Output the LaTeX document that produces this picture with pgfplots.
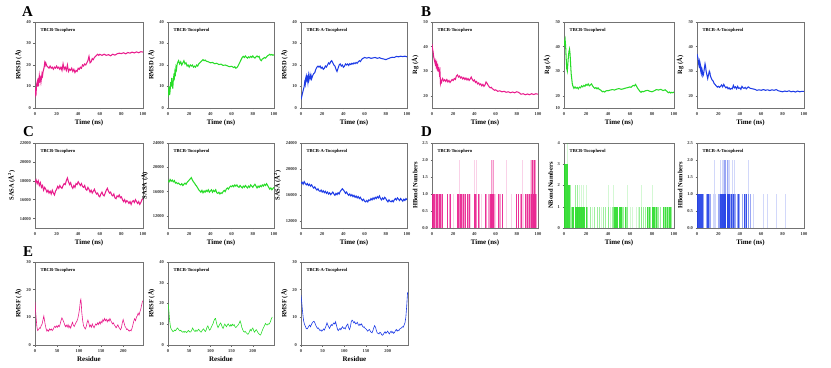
\documentclass[border=0pt]{standalone}
\usepackage{fontspec}
\setmainfont{Liberation Serif}
\usepackage{pgfplots}
\pgfplotsset{compat=1.18}
\definecolor{cp}{RGB}{232,28,140}
\definecolor{cg}{RGB}{40,220,40}
\definecolor{cb}{RGB}{30,60,230}
\pgfplotsset{
  panel/.style={
    scale only axis, anchor=south west,
    axis line style={black!55, line width=0.5pt},
    tick pos=left, tick align=outside, major tick length=1.5bp,
    every tick/.style={black!60, line width=0.4pt},
    tick label style={font=\fontsize{4.5}{5}\selectfont\bfseries, text=black!80},
    xlabel style={font=\fontsize{7}{8}\selectfont\bfseries, yshift=2pt},
    ylabel style={font=\fontsize{6.5}{7}\selectfont\bfseries, yshift=-2pt},
    /pgf/number format/assume math mode=true,
    /pgf/number format/1000 sep={},
    scaled ticks=false,
    xticklabel style={yshift=1pt}, yticklabel style={xshift=1pt},
  },
  tpanel/.style={panel, xmin=0, xmax=100, xtick={0,20,...,100}, xlabel={Time (ns)}},
  rpanel/.style={panel, xmin=0, xtick={0,50,...,200}, xlabel={Residue}},
  ser/.style={line width=1.05pt, #1},
  bar/.style={ycomb, line width=0.9pt, #1},
}
\newcommand\ttl[1]{\node[anchor=north west, font=\fontsize{4.6}{5}\selectfont\bfseries, inner sep=0pt] at (rel axis cs:0.05,0.93) {#1};}
\tikzset{lett/.style={font=\fontsize{15}{15}\selectfont\bfseries, inner sep=0pt, anchor=south west}}
\begin{document}
\begin{tikzpicture}
\path[use as bounding box] (0,0) rectangle (831bp,368bp);
\node[lett] at (22bp,351bp) {A};
\node[lett] at (421bp,351bp) {B};
\node[lett] at (23bp,231bp) {C};
\node[lett] at (421bp,231bp) {D};
\node[lett] at (23bp,111bp) {E};

% ---------------- Row A ----------------
\begin{axis}[tpanel, at={(35bp,260bp)}, width=108bp, height=86bp, ymin=0, ymax=40, ytick={0,10,...,40}, ylabel={RMSD (Å)}]
\addplot[ser=cp] coordinates {(0,5)(0.5,8)(1,7)(1.5,11)(2,12)(2.5,10)(3,14)(3.5,12)(4,15)(4.5,13)(5,14)(5.5,12)(6,14)(6.5,16)(7,15)(7.5,17)(8,18)(8.5,19)(9,21)(9.5,20)(10,21)(11,19.5)(12,19)(13,18.5)(14,19.5)(15,18.5)(16,19)(17,18)(18,19)(19,18.5)(20,19.5)(21,18.5)(22,19)(23,18)(24,19)(25,17.5)(26,20.5)(27,18)(28,19)(29,17.5)(30,20)(31,17)(32,18)(33,17.5)(34,18.5)(35,17)(36,18)(37,16.5)(38,17.5)(39,17)(40,18.5)(41,18)(42,19)(43,18.5)(44,20)(45,19.5)(46,20.5)(47,20)(48,21)(49,22)(50,24)(51,21)(52,21.5)(53,23)(54,22.5)(55,23.5)(56,24)(57,24.5)(58,25)(59,24.5)(60,25)(62,24.5)(64,25)(66,24.5)(68,24.8)(70,24.3)(72,25)(74,24.6)(76,25.2)(78,25.5)(80,25.3)(82,25.7)(84,25.2)(86,25.8)(88,25.5)(90,26)(92,25.6)(94,26.1)(96,25.7)(98,26.2)(100,26)};
\ttl{TBCB-Tocophero}
\end{axis}
\begin{axis}[tpanel, at={(168bp,260bp)}, width=106bp, height=86bp, ymin=0, ymax=40, ytick={0,10,...,40}, ylabel={RMSD (Å)}]
\addplot[ser=cg] coordinates {(0,9)(0.5,7)(1,10)(1.5,6)(2,8)(2.5,12)(3,10)(3.5,14)(4,11)(4.5,9)(5,13)(5.5,15)(6,14)(6.5,17)(7,16)(7.5,19)(8,18)(8.5,20)(9,21)(10,22)(11,20.5)(12,21.5)(13,20)(14,21)(15,22)(16,20.5)(17,21)(18,19.5)(19,20)(20,19)(21,20)(22,19.5)(23,20)(24,19)(25,19.5)(26,19)(27,20)(28,19.5)(29,20.5)(30,21)(31,21.5)(32,22)(33,22.5)(34,22)(35,22.3)(36,21.8)(38,21.5)(40,21)(42,21.2)(44,20.6)(46,20.8)(48,20.2)(50,20.4)(52,19.8)(54,20)(56,19.6)(58,19.2)(60,19.4)(62,18.8)(63,19.2)(64,18.5)(65,18.8)(66,19.5)(67,20.5)(68,21.5)(69,22.5)(70,23.5)(71,24)(72,23.5)(73,24.2)(74,23.6)(75,23.2)(76,23.8)(77,23.4)(78,24)(79,23.5)(80,24.2)(81,23.6)(82,23.2)(83,23.8)(84,24.2)(85,23.7)(86,24)(87,22.5)(88,22)(89,22.8)(90,23)(91,23.5)(92,23.2)(93,23.8)(94,24.3)(95,24.6)(96,25)(97,24.6)(98,24.9)(99,24.5)(100,24.8)};
\ttl{TBCB-Tocopherol}
\end{axis}
\begin{axis}[tpanel, at={(301bp,260bp)}, width=106bp, height=86bp, ymin=0, ymax=40, ytick={0,10,...,40}, ylabel={RMSD (Å)}]
\addplot[ser=cb] coordinates {(0,4)(0.5,5)(1,6)(1.5,7)(2,8)(2.5,9)(3,10)(3.5,12)(4,11)(4.5,14)(5,15)(5.5,13)(6,14)(6.5,12)(7,15)(7.5,13)(8,14)(8.5,15.5)(9,14)(9.5,15)(10,13.5)(11,15)(12,16)(13,16.5)(14,18)(15,19)(16,19.5)(17,19)(18,19.5)(19,18.5)(20,19)(21,18)(22,18.5)(23,19.5)(24,19)(25,20)(26,21)(27,20.5)(28,21.5)(29,22)(30,21)(31,20)(32,19.5)(33,18)(34,17)(35,18.5)(36,20)(37,20.5)(38,19.5)(39,20)(40,19)(41,19.5)(42,20.5)(43,20)(44,20.5)(45,19.8)(46,20.6)(47,20.2)(48,20.8)(49,20.4)(50,21)(51,20.6)(52,21.2)(53,20.8)(54,21.5)(55,22)(56,21.6)(57,22.4)(58,23)(59,23.2)(60,23.5)(62,23.2)(64,23.5)(66,23.1)(68,23.3)(70,23.5)(72,23.1)(74,23.4)(76,23)(78,22.8)(80,22.5)(82,22.9)(84,23.3)(86,23.6)(88,23.5)(90,24)(92,23.8)(94,24.1)(96,23.9)(98,24.1)(100,23.8)};
\ttl{TBCB-A-Tocopherol}
\end{axis}

% ---------------- Row B ----------------
\begin{axis}[tpanel, at={(432bp,260bp)}, width=106bp, height=86bp, ymin=15, ymax=50, ytick={20,30,40,50}, ylabel={Rg (Å)}]
\addplot[ser=cp] coordinates {(0,41)(0.5,39)(1,38)(1.5,36)(2,35)(2.5,34)(3,33)(3.5,34)(4,32)(4.5,33)(5,31)(5.5,32)(6,30.5)(6.5,31)(7,29)(7.5,30)(8,25)(8.5,26)(9,25.5)(9.5,26.5)(10,27)(11,26)(12,26.5)(13,25.8)(14,26.6)(15,25.6)(16,26.2)(17,25.4)(18,26)(19,26.6)(20,26.2)(21,27)(22,26.6)(23,28)(24,28.5)(25,27.6)(26,28)(27,27.2)(28,27.6)(29,26.8)(30,27.4)(31,26.6)(32,27.2)(33,26.4)(34,27)(35,26.2)(36,26.8)(37,27.6)(38,26.6)(39,26)(40,26.4)(41,25.4)(42,25.8)(43,24.8)(44,25.2)(45,24.4)(46,24.8)(47,24)(48,24.6)(49,23.8)(50,24.4)(51,25.6)(52,25)(53,24.2)(54,23.6)(55,23.2)(56,23.4)(57,22.8)(58,22.6)(59,22.2)(60,22.4)(62,21.8)(64,22)(66,21.6)(68,21.8)(70,21.4)(72,21.6)(74,21.2)(76,21.5)(78,21.2)(80,21.6)(82,21.3)(84,20.6)(86,20.8)(88,20.4)(90,20.7)(92,20.4)(94,20.8)(96,20.5)(98,20.8)(100,20.6)};
\ttl{TBCB-Tocophero}
\end{axis}
\begin{axis}[tpanel, at={(564bp,260bp)}, width=110bp, height=86bp, ymin=15, ymax=50, ytick={15,20,30,40,50}, yticklabels={10,20,30,40,50}, ylabel={Rg (Å)}]
\addplot[ser=cg] coordinates {(0,40)(0.5,42)(1,43)(1.5,40)(2,35)(2.5,31)(3,30)(3.5,33)(4,36)(4.5,38)(5,39)(5.5,37)(6,33)(6.5,29)(7,27)(7.5,25)(8,24)(8.5,23.5)(9,23)(10,23.6)(11,23)(12,23.4)(13,22.8)(14,23.5)(15,23.2)(16,24)(17,23.6)(18,24.2)(19,23.8)(20,24.6)(21,24.2)(22,24.8)(23,24)(24,24.4)(25,24.8)(26,24)(27,23.4)(28,23)(29,23.3)(30,22.8)(31,23.2)(32,22.6)(33,22.4)(34,22)(35,21.6)(36,21.8)(37,21.5)(38,21.9)(39,22.1)(40,22)(42,22.3)(44,22.5)(46,22.3)(48,22.7)(50,22.9)(52,22.6)(54,22.8)(56,23.1)(58,23.3)(60,23.6)(61,23.4)(62,23.9)(63,24.2)(64,24)(65,24.6)(66,23.8)(67,23)(68,22.4)(69,21.8)(70,21.4)(71,21.8)(72,21.6)(74,22)(76,22.2)(78,21.8)(80,21.6)(82,22)(84,22.5)(86,22.3)(88,22.6)(90,22.1)(92,22.4)(94,21.6)(95,21.2)(96,21.5)(97,21.1)(98,21.4)(99,21.2)(100,21.5)};
\ttl{TBCB-Tocopherol}
\end{axis}
\begin{axis}[tpanel, at={(697bp,260bp)}, width=107bp, height=86bp, ymin=15, ymax=50, ytick={20,30,40,50}, ylabel={Rg (Å)}]
\addplot[ser=cb] coordinates {(0,37)(0.5,36)(1,35)(1.5,33)(2,32)(2.5,34)(3,33)(3.5,30)(4,29)(4.5,31)(5,30)(5.5,28)(6,28.5)(6.5,30)(7,31.5)(7.5,33)(8,32)(8.5,30)(9,29)(9.5,28)(10,27)(10.5,28)(11,29)(11.5,30)(12,29.5)(12.5,28)(13,27.5)(14,26.5)(15,26)(16,25)(17,24.5)(18,24)(19,23.5)(20,23.8)(21,23.4)(22,23.8)(23,24.4)(24,23.6)(25,24.6)(26,23.8)(27,23.2)(28,23.6)(29,22.8)(30,23.2)(31,22.6)(32,23)(33,22.8)(34,24.2)(35,23.2)(36,23.6)(37,22.8)(38,23.8)(39,23)(40,23.2)(41,22.6)(42,23.8)(43,23.2)(44,23)(45,23.4)(46,22.8)(47,23.2)(48,23.6)(49,23.2)(50,23)(52,22.8)(54,22.6)(56,22.2)(58,22.4)(60,22.2)(62,22.5)(64,22.2)(66,22.4)(68,22.1)(70,22.4)(72,22.2)(74,22.5)(76,22)(78,21.8)(80,21.6)(82,21.9)(84,21.7)(86,22)(88,21.6)(90,21.8)(92,21.5)(94,21.9)(96,21.6)(98,21.8)(100,21.8)};
\ttl{TBCB-A-Tocopherol}
\end{axis}

% ---------------- Row C ----------------
\begin{axis}[tpanel, at={(35bp,140bp)}, width=108bp, height=85bp, ymin=13000, ymax=22000, ytick={14000,16000,...,22000}, ylabel={SASA (Å\textsuperscript{2})}]
\addplot[ser=cp] coordinates {(0,17800)(1,18100)(2,17700)(3,18000)(4,17500)(5,17800)(6,17300)(7,17500)(8,17000)(9,17300)(10,17100)(11,16800)(12,17000)(13,16700)(14,16900)(15,16600)(16,17000)(17,16700)(18,16500)(19,16900)(20,17100)(21,17400)(22,17200)(23,17500)(24,17300)(25,17200)(26,17500)(27,17700)(28,17600)(29,18000)(30,18300)(31,17900)(32,17600)(33,17800)(34,17400)(35,17200)(36,17500)(37,17300)(38,17700)(39,17600)(40,17900)(41,17700)(42,17500)(43,17700)(44,17400)(45,17300)(46,17500)(47,17100)(48,17000)(49,17300)(50,17100)(51,16800)(52,17000)(53,16700)(54,16900)(55,17100)(56,16800)(57,16600)(58,16700)(59,16400)(60,16300)(61,16600)(62,16800)(63,16500)(64,16400)(65,16700)(66,17000)(67,17200)(68,16900)(69,16700)(70,16800)(71,16500)(72,16400)(73,16600)(74,16200)(75,16100)(76,16400)(77,16300)(78,16500)(79,16200)(80,16300)(81,16000)(82,15800)(83,16000)(84,15700)(85,15900)(86,15800)(87,15600)(88,15800)(89,15500)(90,15800)(91,15900)(92,15700)(93,16000)(94,15800)(95,15600)(96,15800)(97,15500)(98,15700)(99,16000)(100,16100)};
\ttl{TBCB-Tocophero}
\end{axis}
\begin{axis}[tpanel, at={(168bp,140bp)}, width=106bp, height=85bp, ymin=10000, ymax=24000, ytick={12000,16000,20000,24000}, ylabel={SASA (Å)}]
\addplot[ser=cg] coordinates {(0,17800)(1,17600)(2,18000)(3,17700)(4,17900)(5,17600)(6,17800)(7,17400)(8,17500)(9,17300)(10,17400)(11,17200)(12,17100)(13,17300)(14,17000)(15,17200)(16,17400)(17,17200)(18,17500)(19,17700)(20,17900)(21,18100)(22,18300)(23,17900)(24,17600)(25,17400)(26,17100)(27,16900)(28,16600)(29,16300)(30,16100)(31,15900)(32,16200)(33,15800)(34,16100)(35,15900)(36,16200)(37,16000)(38,16300)(39,15900)(40,16100)(41,16300)(42,15900)(43,16200)(44,16000)(45,16300)(46,15800)(47,15700)(48,15900)(49,15600)(50,15800)(51,15700)(52,16000)(53,16200)(54,16000)(55,16400)(56,16600)(57,16400)(58,16700)(59,16900)(60,16800)(61,17000)(62,16800)(63,17100)(64,16900)(65,17100)(66,16800)(67,16700)(68,17000)(69,16800)(70,16600)(71,16900)(72,16700)(73,17000)(74,16800)(75,16600)(76,16900)(77,16700)(78,17100)(79,16900)(80,16700)(81,17000)(82,17200)(83,16900)(84,16600)(85,16900)(86,16700)(87,17000)(88,16800)(89,17100)(90,16900)(91,17200)(92,17000)(93,17300)(94,17000)(95,16700)(96,16400)(97,16600)(98,16300)(99,16500)(100,16700)};
\ttl{TBCB-Tocopherol}
\end{axis}
\begin{axis}[tpanel, at={(301bp,140bp)}, width=106bp, height=85bp, ymin=11000, ymax=24000, ytick={12000,16000,20000,24000}, ylabel={SASA (Å\textsuperscript{2})}]
\addplot[ser=cb] coordinates {(0,17800)(1,18000)(2,17700)(3,18100)(4,17800)(5,17600)(6,17800)(7,17500)(8,17700)(9,17400)(10,17600)(11,17300)(12,17100)(13,17300)(14,17000)(15,16800)(16,17000)(17,16700)(18,16600)(19,16800)(20,16500)(21,16700)(22,16400)(23,16600)(24,16300)(25,16500)(26,16200)(27,16400)(28,16100)(29,16300)(30,16500)(31,16200)(32,16000)(33,16300)(34,16100)(35,16400)(36,16200)(37,16600)(38,16800)(39,17000)(40,16800)(41,16600)(42,16300)(43,16500)(44,16200)(45,16000)(46,16200)(47,15900)(48,16100)(49,15800)(50,16000)(51,15700)(52,15900)(53,15600)(54,15800)(55,15500)(56,15700)(57,15400)(58,15200)(59,15400)(60,15100)(61,15000)(62,15200)(63,15000)(64,15300)(65,15200)(66,15500)(67,15300)(68,15600)(69,15400)(70,15700)(71,15500)(72,15800)(73,15600)(74,15900)(75,15500)(76,15300)(77,15600)(78,15400)(79,15700)(80,15500)(81,15200)(82,15000)(83,15300)(84,15100)(85,15000)(86,15200)(87,15000)(88,15300)(89,15500)(90,15300)(91,15600)(92,15400)(93,15200)(94,15500)(95,15300)(96,15100)(97,15400)(98,15200)(99,15500)(100,15300)};
\ttl{TBCB-A-Tocopherol}
\end{axis}

% ---------------- Row D ----------------
\begin{axis}[tpanel, at={(432bp,140bp)}, width=106bp, height=85bp, ymin=0, ymax=2.5, ytick={0,0.5,...,2.5}, yticklabel style={/pgf/number format/.cd, fixed, fixed zerofill, precision=1}, ylabel={HBond Numbers}]
\addplot[bar=cp, opacity=0.2] coordinates {(26,2)(40,2)(42,2)(57,2)(70,2)(85,2)(93,2)(20,1)(36,1)(47,1)(60,1)(70,1)(75,1)(86,1)};
\addplot[bar=cp, opacity=0.45] coordinates {(56,2)(58,2)(94,2)(96,2)(98,2)(3,1)(6,1)(9,1)(16,1)(26,1)(29,1)(31,1)(34,1)(42,1)(45,1)(51,1)(53,1)(54,1)(59,1)(64,1)(65,1)(83,1)(89,1)(91,1)(93,1)(97,1)(99,1)};
\addplot[bar=cp, opacity=0.9] coordinates {(95,2)(97,2)(0,1)(1,1)(2,1)(4,1)(5,1)(7,1)(8,1)(10,1)(15,1)(17,1)(24,1)(25,1)(27,1)(28,1)(30,1)(32,1)(33,1)(35,1)(40,1)(41,1)(44,1)(50,1)(55,1)(56,1)(57,1)(58,1)(63,1)(66,1)(80,1)(82,1)(84,1)(88,1)(90,1)(92,1)(94,1)(96,1)(98,1)(100,1)};
\ttl{TBCB-Tocophero}
\end{axis}
\begin{axis}[tpanel, at={(564bp,140bp)}, width=110bp, height=85bp, ymin=0, ymax=4, ytick={0,1,...,4}, ylabel={NBond Numbers}]
\addplot[bar=cg, opacity=0.2] coordinates {(3,4)(14,2)(16,2)(18,2)(20,2)(40,2)(45,2)(58,2)(70,2)(80,2)(26,1)(34,1)(42,1)(60,1)(62,1)(66,1)(68,1)};
\addplot[bar=cg, opacity=0.45] coordinates {(5.5,2)(6,2)(10,2)(12,2)(6,1)(7,1)(21,1)(24,1)(28,1)(30,1)(32,1)(36,1)(38,1)(40,1)(44,1)(45,1)(53,1)(54,1)(57,1)(58,1)(69,1)(70,1)(72,1)(74,1)(77,1)(79,1)(83,1)(85,1)(86,1)(88,1)(91,1)(93,1)(95,1)(98,1)};
\addplot[bar=cg, opacity=0.9] coordinates {(0,3)(0.5,3)(1,3)(1.5,3)(2,3)(2.5,3)(3,3)(3.5,2)(4,2)(4.5,2)(5,2)(8,1)(9,1)(10,1)(11,1)(12,1)(13,1)(14,1)(15,1)(16,1)(17,1)(18,1)(19,1)(20,1)(46,1)(47,1)(48,1)(49,1)(50,1)(51,1)(52,1)(56,1)(76,1)(78,1)(80,1)(81,1)(82,1)(84,1)(90,1)(92,1)(94,1)(96,1)(97,1)};
\ttl{TBCB-Tocopherol}
\end{axis}
\begin{axis}[tpanel, at={(697bp,140bp)}, width=107bp, height=85bp, ymin=0, ymax=2.5, ytick={0,0.5,...,2.5}, yticklabel style={/pgf/number format/.cd, fixed, fixed zerofill, precision=1}, ylabel={HBond Numbers}]
\addplot[bar=cb, opacity=0.2] coordinates {(16,2)(22,2)(24,2)(25,2)(29,2)(30,2)(33,2)(35,2)(48,2)(53,1)(62,1)(66,1)(74,1)(83,1)(15,1)(17,1)};
\addplot[bar=cb, opacity=0.45] coordinates {(26,2)(27,2)(28,2)(6,1)(9,1)(12,1)(13,1)(20,1)(21,1)(31,1)(33,1)(35,1)(36,1)(38,1)(40,1)(42,1)(45,1)(48,1)(50,1)};
\addplot[bar=cb, opacity=0.9] coordinates {(0,1)(1,1)(2,1)(3,1)(4,1)(5,1)(10,1)(11,1)(22,1)(23,1)(24,1)(25,1)(26,1)(27,1)(28,1)(29,1)(30,1)(32,1)(34,1)(39,1)(44,1)(46,1)};
\ttl{TBCB-A-Tocopherol}
\end{axis}

% ---------------- Row E ----------------
\begin{axis}[rpanel, at={(35bp,23bp)}, width=108bp, height=83bp, xmax=245, ymin=0, ymax=30, ytick={0,10,20,30}, ylabel={RMSF (Å)}]
\addplot[ser=cp, line width=0.6pt] coordinates {(0,15.5)(1,13)(2,11)(3,9)(4,7)(5,6)(6,5.2)(8,5.5)(10,6.2)(12,6)(14,7)(16,7.5)(18,9)(20,10.5)(21,9.5)(23,7.5)(25,6)(27,5)(29,5.5)(31,5)(33,5.8)(35,5.4)(37,5.8)(39,5.2)(41,5.6)(43,6.3)(45,6.8)(47,6.3)(49,6.9)(51,6.4)(53,7.1)(55,6.6)(57,7.5)(59,8.8)(61,9.8)(63,9.2)(65,8.4)(67,7.5)(69,6.6)(71,7.2)(73,6.5)(75,7.4)(77,6.2)(79,6.9)(81,6.1)(83,7.3)(85,8.2)(87,7.2)(89,6.7)(91,7.4)(93,8.1)(95,8.6)(97,9.5)(99,11)(101,13)(103,16)(104,16.5)(105,15)(106,12)(108,9)(110,7)(112,6.3)(114,5.8)(116,6.5)(118,8)(120,9)(122,8)(124,6.6)(126,7.2)(128,6.4)(130,7.6)(132,6.8)(134,6.2)(136,7)(138,7.6)(140,7.2)(142,8)(144,7.4)(146,8.3)(148,7.6)(150,8.6)(152,8)(154,9.2)(156,8.6)(158,9.6)(160,8.8)(162,9.3)(164,8.4)(166,9.2)(168,8.6)(170,9.6)(172,8.8)(174,8.2)(176,7.6)(178,8)(180,7.2)(182,6.8)(184,6.2)(186,6.8)(188,7.3)(190,6.5)(192,6)(194,5.5)(196,6.2)(198,8)(200,9.2)(202,8)(204,6.8)(206,6.3)(208,5.6)(210,5.8)(212,5.3)(214,5)(216,5.4)(218,5.1)(220,6)(222,7.2)(224,8.6)(226,9.5)(228,8.8)(230,10)(232,10.6)(234,11.5)(236,10.8)(238,12)(240,13)(242,14.5)(244,16)};
\ttl{TBCB-Tocophero}
\end{axis}
\begin{axis}[rpanel, at={(168bp,23bp)}, width=106bp, height=83bp, xmax=250, ymin=0, ymax=40, ytick={0,10,...,40}, ylabel={RMSF (Å)}]
\addplot[ser=cg, line width=0.6pt] coordinates {(0,20)(1,18.5)(2,16.5)(3,14)(4,11.5)(5,10)(6,8.5)(8,7.5)(10,7)(12,6.4)(14,6.8)(16,7.2)(18,6.9)(20,7.6)(22,8.2)(24,7.8)(26,7.2)(28,6.8)(30,7.1)(32,6.6)(34,6.2)(36,6.5)(38,6.1)(40,6.6)(42,6.3)(44,6)(46,6.5)(48,7)(50,6.6)(52,6.2)(54,6.4)(56,7.2)(58,8.2)(60,7.4)(62,6.8)(64,6.5)(66,7.2)(68,6.6)(70,6.9)(72,7.6)(74,7.2)(76,6.5)(78,6.2)(80,6.8)(82,7.4)(84,7.8)(86,7)(88,6.5)(90,7.2)(92,8.6)(94,9.2)(96,8)(98,7.2)(100,7.6)(102,8.5)(104,9.4)(106,10.2)(108,11.5)(110,12.5)(112,12.8)(114,11)(116,9.4)(118,8.4)(120,9.2)(122,10)(124,10.6)(126,9.8)(128,8.6)(130,8)(132,9.2)(134,10.1)(136,9.4)(138,8.8)(140,9.6)(142,10.2)(144,9.5)(146,9)(148,9.8)(150,9.2)(152,10)(154,9.4)(156,9.8)(158,8.8)(160,8.4)(162,8.9)(164,9.3)(166,9.8)(168,10.6)(170,11.6)(172,10.4)(174,8.6)(176,7.5)(178,6.6)(180,6.2)(182,6.6)(184,6)(186,5.6)(188,5.2)(190,5.4)(192,6.5)(194,7.5)(196,6.8)(198,7.6)(200,8.2)(202,7)(204,6.2)(206,6.8)(208,7.4)(210,6.8)(212,6)(214,5.5)(216,5)(218,4.8)(220,5.6)(222,6.8)(224,7.8)(226,8.6)(228,9.6)(230,10.4)(232,9.8)(234,9.6)(236,10.2)(238,10)(240,10.6)(242,11.5)(244,12.8)(246,13.5)};
\ttl{TBCB-Tocopherol}
\end{axis}
\begin{axis}[rpanel, at={(301bp,23bp)}, width=107bp, height=83bp, xmax=247, ymin=0, ymax=30, ytick={0,10,20,30}, ylabel={RMSF (Å)}]
\addplot[ser=cb, line width=0.6pt] coordinates {(0,18)(1,16.5)(2,15)(3,13)(4,11.5)(5,10)(6,8.8)(8,7.5)(10,6.8)(12,6)(14,5.8)(16,6.2)(18,6.8)(20,7.2)(22,6.6)(24,7.4)(26,8)(28,8.4)(30,8.6)(32,8)(34,7.2)(36,6.5)(38,6)(40,6.2)(42,5.6)(44,5.2)(46,5.5)(48,5)(50,5.3)(52,5.8)(54,5.4)(56,6.2)(58,7)(60,8)(62,7.2)(64,6.5)(66,6)(68,6.8)(70,7.4)(72,7)(74,7.6)(76,8)(78,7.6)(80,8.4)(82,7)(84,5.8)(86,5.2)(88,5.6)(90,6)(92,5.5)(94,6.2)(96,6.6)(98,6)(100,6.2)(102,5.8)(104,6.6)(106,7.2)(108,7.6)(110,6.2)(112,5.6)(114,6.6)(116,8.4)(118,9)(120,8.6)(122,8)(124,8.4)(126,7.6)(128,7.8)(130,8.2)(132,7.4)(134,7)(136,7.6)(138,7.2)(140,7.6)(142,6.8)(144,6.4)(146,6.6)(148,6)(150,5.8)(152,5.4)(154,5)(156,5.4)(158,5.6)(160,5)(162,4.6)(164,4.4)(166,5.2)(168,6.2)(170,7)(172,6.4)(174,5.2)(176,4.4)(178,4.2)(180,4)(182,4.6)(184,4.4)(186,3.8)(188,3.5)(190,3.8)(192,4.4)(194,4.8)(196,4.2)(198,4.6)(200,5)(202,4.4)(204,4)(206,4.6)(208,5)(210,4.4)(212,4.8)(214,4.2)(216,4.6)(218,5.2)(220,5.6)(222,5)(224,5.4)(226,5.2)(228,5.8)(230,6)(232,6.2)(234,6.6)(236,6.4)(238,7.2)(240,8)(242,10)(244,14)(246,19)};
\ttl{TBCB-A-Tocopherol}
\end{axis}
\end{tikzpicture}
\end{document}
